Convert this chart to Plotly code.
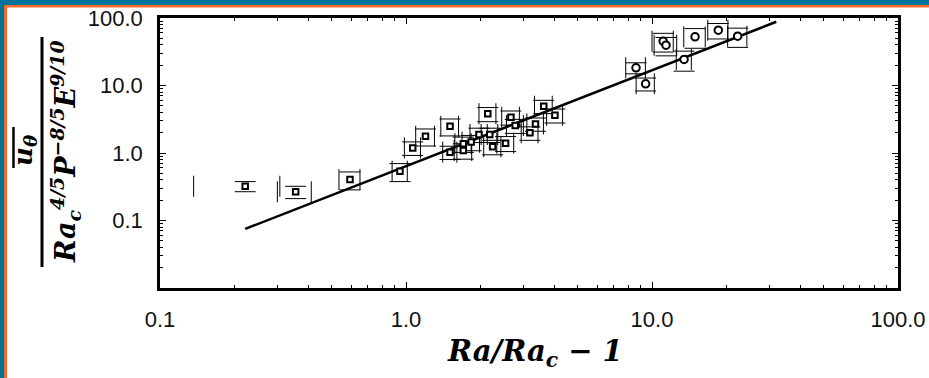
import numpy as np
import plotly.graph_objects as go

# ---- data ----
sq_x = [0.222, 0.356, 0.592, 0.945, 1.065, 1.20, 1.51, 1.51, 1.71, 1.71, 1.84, 1.98,
        2.15, 2.19, 2.25, 2.54, 2.67, 2.78, 3.19, 3.36, 3.63, 4.03]
sq_y = [0.322, 0.266, 0.404, 0.537, 1.19, 1.77, 2.49, 1.03, 1.37, 1.09, 1.45, 1.88,
        3.81, 1.88, 1.24, 1.40, 3.39, 2.55, 1.99, 2.70, 4.93, 3.63]
sq_xerr = [0.085, 0.056, 0.058, 0.067, 0.08, 0.105, 0.125, 0.10, 0.13, 0.14, 0.15, 0.16,
           0.17, 0.17, 0.18, 0.20, 0.22, 0.22, 0.25, 0.26, 0.30, 0.30]
sq_yerr = [0.055, 0.055, 0.12, 0.16, 0.27, 0.50, 0.70, 0.23, 0.35, 0.28, 0.37, 0.45,
           0.90, 0.45, 0.30, 0.35, 0.80, 0.60, 0.45, 0.60, 1.10, 0.85]

ci_x = [8.61, 9.42, 11.1, 11.4, 13.5, 14.96, 18.6, 22.3]
ci_y = [18.3, 10.6, 45.3, 39.5, 24.3, 52.6, 65.9, 53.7]
ci_xerr = [0.79, 0.80, 1.10, 1.20, 0.95, 1.50, 1.75, 2.00]
ci_yerr = [3.4, 2.3, 14.0, 12.0, 8.0, 17.0, 17.0, 17.0]

fit_x = [0.222, 32.0]
fit_y = [0.075, 88.0]

tick_vals = [0.1, 1, 10, 100]
tick_text = ["0.1", "1.0", "10.0", "100.0"]

# ---- figure ----
ax = np.array(sq_x + ci_x)
ay = np.array(sq_y + ci_y)
axe = np.array(sq_xerr + ci_xerr)
aye = np.array(sq_yerr + ci_yerr)

cap_line = dict(color="black", width=1)
fig = go.Figure()
fig.add_trace(go.Scatter(
    x=np.concatenate([ax - axe, ax + axe]), y=np.concatenate([ay, ay]),
    mode="markers", marker=dict(symbol="line-ns", size=15, line=cap_line),
    hoverinfo="skip", showlegend=False))
fig.add_trace(go.Scatter(
    x=np.concatenate([ax, ax]), y=np.concatenate([ay - aye, ay + aye]),
    mode="markers", marker=dict(symbol="line-ew", size=15, line=cap_line),
    hoverinfo="skip", showlegend=False))
fig.add_trace(go.Scatter(x=fit_x, y=fit_y, mode="lines",
                         line=dict(color="black", width=2.5), showlegend=False))
fig.add_trace(go.Scatter(x=sq_x, y=sq_y, mode="markers",
                         marker=dict(symbol="square", size=5.5, color="white",
                                     line=dict(color="black", width=2)),
                         showlegend=False))
fig.add_trace(go.Scatter(x=ci_x, y=ci_y, mode="markers",
                         marker=dict(symbol="circle", size=7.5, color="white",
                                     line=dict(color="black", width=2)),
                         showlegend=False))

axis_common = dict(
    type="log", showgrid=False, zeroline=False, automargin=False,
    showline=True, linecolor="black", linewidth=2.5, mirror="allticks",
    ticks="inside", ticklen=6, tickwidth=1.2, tickcolor="black",
    tickmode="array", tickvals=tick_vals, ticktext=tick_text,
    tickfont=dict(family="Liberation Sans, Arial, sans-serif", size=22, color="#111"),
    minor=dict(ticks="inside", ticklen=3, tickwidth=1, tickcolor="black",
               dtick="D1", showgrid=False),
    ticklabelstandoff=10,
)
fig.update_xaxes(range=[-1, 2], **axis_common)
fig.update_yaxes(range=[-2, 2], **axis_common)

L, T, B, R = 160, 18, 90, 31
W, H = 929, 378
PW, PH = W - L - R, H - T - B

def px_x(px):
    return (px - L) / PW

def px_y(py):
    return (H - B - py) / PH

serif = "DejaVu Serif, Liberation Serif, serif"
annotations = [
    dict(text="<b><i>Ra/Ra<sub>c</sub> − 1</i></b>", x=px_x(535), y=px_y(353),
         xref="paper", yref="paper", showarrow=False, xanchor="center", yanchor="middle",
         font=dict(family=serif, size=29, color="black")),
    dict(text="<b><i>Ra<sub>c</sub><sup>4/5</sup>P<sup>−8/5</sup>E<sup>9/10</sup></i></b>",
         x=px_x(65), y=px_y(152), xref="paper", yref="paper", showarrow=False,
         textangle=-90, xanchor="center", yanchor="middle",
         font=dict(family=serif, size=27, color="black")),
    dict(text="<b><i>u<sub>θ</sub></i></b>",
         x=px_x(24), y=px_y(150), xref="paper", yref="paper", showarrow=False,
         textangle=-90, xanchor="center", yanchor="middle",
         font=dict(family=serif, size=26, color="black")),
]

def pshape(kind, x0, x1, y0, y1, **kw):
    # x/y in screen pixels, converted to pixel offsets from plot-area bottom-left
    return dict(type=kind, xref="paper", yref="paper", xsizemode="pixel", ysizemode="pixel",
                xanchor=0, yanchor=0, x0=x0 - L, x1=x1 - L,
                y0=(H - B) - y0, y1=(H - B) - y1, **kw)

blue, orange = "#00739a", "#fa6a2c"
shapes = [
    pshape("rect", 0, W, 0, 5, fillcolor=blue, line=dict(width=0), layer="above"),
    pshape("rect", 4, W, 5, 7.5, fillcolor=orange, line=dict(width=0), layer="above"),
    pshape("rect", 0, 4, 0, H, fillcolor=blue, line=dict(width=0), layer="above"),
    pshape("rect", 4, 7, 5, H, fillcolor=orange, line=dict(width=0), layer="above"),
    # fraction bar of the y title
    pshape("line", 42, 42, 37, 267, line=dict(color="black", width=3)),
    # overline on u_theta
    pshape("line", 13.5, 13.5, 127, 168, line=dict(color="black", width=2.5)),
]

fig.update_layout(
    width=W, height=H, margin=dict(l=L, r=R, t=T, b=B),
    paper_bgcolor="white", plot_bgcolor="white",
    showlegend=False, annotations=annotations, shapes=shapes,
)

fig.write_html("out.html")
